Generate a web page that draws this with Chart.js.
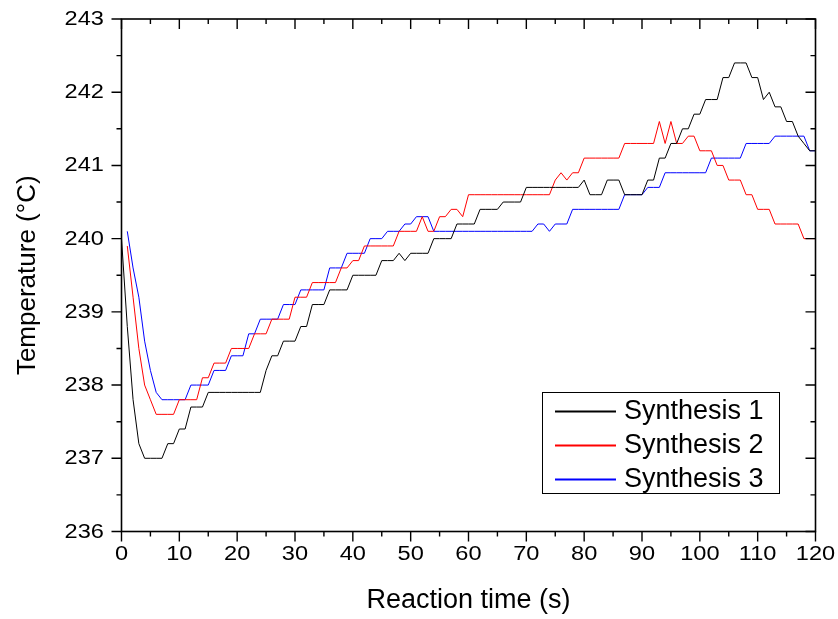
<!DOCTYPE html>
<html>
<head>
<meta charset="utf-8">
<script src="https://cdn.jsdelivr.net/npm/chart.js@4/dist/chart.umd.min.js"></script>
<style>
  html, body { margin: 0; padding: 0; background: #ffffff; }
  #wrap { width: 838px; height: 619px; position: relative; }
</style>
</head>
<body>
<div id="wrap"><canvas id="chart" width="838" height="619"></canvas></div>
<script>
// Reactor temperature logged once per second for three syntheses.
const SERIES_NAMES = ['Synthesis 1', 'Synthesis 2', 'Synthesis 3'];
const SERIES_COLORS = ['#000000', '#ff0000', '#0000ff'];
const SERIES_START_S = [0, 1, 1];   // first logged second of each run
const SAMPLE_STEP_S = 1;

const synthesis1 = [
  240.0, 238.8, 237.8, 237.2, 237.0, 237.0, 237.0, 237.0, 237.2, 237.2,
  237.4, 237.4, 237.7, 237.7, 237.7, 237.9, 237.9, 237.9, 237.9, 237.9,
  237.9, 237.9, 237.9, 237.9, 237.9, 238.2, 238.4, 238.4, 238.6, 238.6,
  238.6, 238.8, 238.8, 239.1, 239.1, 239.1, 239.3, 239.3, 239.3, 239.3,
  239.5, 239.5, 239.5, 239.5, 239.5, 239.7, 239.7, 239.7, 239.8, 239.7,
  239.8, 239.8, 239.8, 239.8, 240.0, 240.0, 240.0, 240.0, 240.2, 240.2,
  240.2, 240.2, 240.4, 240.4, 240.4, 240.4, 240.5, 240.5, 240.5, 240.5,
  240.7, 240.7, 240.7, 240.7, 240.7, 240.7, 240.7, 240.7, 240.7, 240.7,
  240.8, 240.6, 240.6, 240.6, 240.8, 240.8, 240.8, 240.6, 240.6, 240.6,
  240.6, 240.8, 240.8, 241.1, 241.1, 241.3, 241.3, 241.5, 241.5, 241.7,
  241.7, 241.9, 241.9, 241.9, 242.2, 242.2, 242.4, 242.4, 242.4, 242.2,
  242.2, 241.9, 242.0, 241.8, 241.8, 241.6, 241.6, 241.4, 241.3, 241.2,
  241.2
];

const synthesis2 = [
         239.9, 239.2, 238.5, 238.0, 237.8, 237.6, 237.6, 237.6, 237.6,
  237.8, 237.8, 237.8, 237.8, 238.1, 238.1, 238.3, 238.3, 238.3, 238.5,
  238.5, 238.5, 238.5, 238.7, 238.7, 238.7, 238.9, 238.9, 238.9, 238.9,
  239.2, 239.2, 239.2, 239.4, 239.4, 239.4, 239.4, 239.4, 239.6, 239.6,
  239.7, 239.7, 239.9, 239.9, 239.9, 239.9, 239.9, 239.9, 240.1, 240.1,
  240.1, 240.1, 240.3, 240.1, 240.1, 240.3, 240.3, 240.4, 240.4, 240.3,
  240.6, 240.6, 240.6, 240.6, 240.6, 240.6, 240.6, 240.6, 240.6, 240.6,
  240.6, 240.6, 240.6, 240.6, 240.6, 240.8, 240.9, 240.8, 240.9, 240.9,
  241.1, 241.1, 241.1, 241.1, 241.1, 241.1, 241.1, 241.3, 241.3, 241.3,
  241.3, 241.3, 241.3, 241.6, 241.3, 241.6, 241.3, 241.3, 241.4, 241.4,
  241.2, 241.2, 241.2, 241.0, 241.0, 240.8, 240.8, 240.8, 240.6, 240.6,
  240.4, 240.4, 240.4, 240.2, 240.2, 240.2, 240.2, 240.2, 240.0, 240.0,
  240.0
];

const synthesis3 = [
         240.1, 239.6, 239.2, 238.6, 238.2, 237.9, 237.8, 237.8, 237.8,
  237.8, 237.8, 238.0, 238.0, 238.0, 238.0, 238.2, 238.2, 238.2, 238.4,
  238.4, 238.4, 238.7, 238.7, 238.9, 238.9, 238.9, 238.9, 239.1, 239.1,
  239.1, 239.3, 239.3, 239.3, 239.3, 239.3, 239.6, 239.6, 239.6, 239.8,
  239.8, 239.8, 239.8, 240.0, 240.0, 240.0, 240.1, 240.1, 240.1, 240.2,
  240.2, 240.3, 240.3, 240.3, 240.1, 240.1, 240.1, 240.1, 240.1, 240.1,
  240.1, 240.1, 240.1, 240.1, 240.1, 240.1, 240.1, 240.1, 240.1, 240.1,
  240.1, 240.1, 240.2, 240.2, 240.1, 240.2, 240.2, 240.2, 240.4, 240.4,
  240.4, 240.4, 240.4, 240.4, 240.4, 240.4, 240.4, 240.6, 240.6, 240.6,
  240.6, 240.7, 240.7, 240.7, 240.9, 240.9, 240.9, 240.9, 240.9, 240.9,
  240.9, 240.9, 241.1, 241.1, 241.1, 241.1, 241.1, 241.1, 241.3, 241.3,
  241.3, 241.3, 241.3, 241.4, 241.4, 241.4, 241.4, 241.4, 241.4, 241.2,
  241.2
];

// Axis ranges and tick spacing
const X_RANGE = [0, 120];
const X_MAJOR = 10;
const X_MINOR = 5;
const Y_RANGE = [236, 243];
const Y_MAJOR = 1;
const Y_MINOR = 0.5;
const X_TITLE = 'Reaction time (s)';
const Y_TITLE = 'Temperature (°C)';

const FONT_FAMILY = '"Liberation Sans", Arial, Helvetica, sans-serif';
const TICK_FONT_PX = 20;
const TICK_STRETCH = 1.18;   // tick numerals are set slightly wide

function toPoints(values, startS) {
  return values.map((v, i) => ({ x: startS + i * SAMPLE_STEP_S, y: v }));
}

const seriesValues = [synthesis1, synthesis2, synthesis3];

function isMultiple(v, step) {
  return Math.abs(v / step - Math.round(v / step)) < 1e-6;
}

// Frame on all four sides: outward ticks on bottom/left, inward ticks on top/right,
// plus the (widened) numeric tick labels taken from the Chart.js scales.
const framePlugin = {
  id: 'frameTicks',
  afterDatasetsDraw(chart) {
    const { ctx, chartArea: a, scales: { x, y } } = chart;
    const MAJOR_LEN = 10, MINOR_LEN = 5;
    ctx.save();
    ctx.strokeStyle = '#000';
    ctx.lineWidth = 1.6;
    ctx.lineCap = 'square';
    ctx.strokeRect(a.left, a.top, a.right - a.left, a.bottom - a.top);
    ctx.lineWidth = 1.4;
    ctx.lineCap = 'butt';
    ctx.beginPath();
    for (let v = X_RANGE[0]; v <= X_RANGE[1] + 1e-9; v += X_MINOR) {
      const px = x.getPixelForValue(v);
      const len = isMultiple(v, X_MAJOR) ? MAJOR_LEN : MINOR_LEN;
      ctx.moveTo(px, a.bottom); ctx.lineTo(px, a.bottom + len);
      ctx.moveTo(px, a.top); ctx.lineTo(px, a.top + len);
    }
    for (let v = Y_RANGE[0]; v <= Y_RANGE[1] + 1e-9; v += Y_MINOR) {
      const py = y.getPixelForValue(v);
      const len = isMultiple(v, Y_MAJOR) ? MAJOR_LEN : MINOR_LEN;
      ctx.moveTo(a.left, py); ctx.lineTo(a.left - len, py);
      ctx.moveTo(a.right, py); ctx.lineTo(a.right - len, py);
    }
    ctx.stroke();

    ctx.fillStyle = '#000';
    ctx.font = TICK_FONT_PX + 'px ' + FONT_FAMILY;
    ctx.textBaseline = 'alphabetic';
    ctx.textAlign = 'center';
    x.ticks.forEach(t => {
      const px = x.getPixelForValue(t.value);
      ctx.save();
      ctx.translate(px, a.bottom + 28);
      ctx.scale(TICK_STRETCH, 1);
      ctx.fillText(String(t.value), 0, 0);
      ctx.restore();
    });
    ctx.textAlign = 'right';
    y.ticks.forEach(t => {
      const py = y.getPixelForValue(t.value);
      ctx.save();
      ctx.translate(a.left - 17.5, py + 6);
      ctx.scale(TICK_STRETCH, 1);
      ctx.fillText(String(t.value), 0, 0);
      ctx.restore();
    });
    ctx.restore();
  }
};

// Boxed legend in the lower right of the plot area.
const boxLegendPlugin = {
  id: 'boxLegend',
  afterDatasetsDraw(chart) {
    const { ctx, chartArea: a } = chart;
    const box = { right: a.right - 35.5, bottom: a.bottom - 37.5, width: 238, height: 102 };
    const left = Math.round(box.right - box.width), top = Math.round(box.bottom - box.height);
    ctx.save();
    ctx.fillStyle = '#ffffff';
    ctx.fillRect(left, top, box.width, box.height);
    ctx.strokeStyle = '#000000';
    ctx.lineWidth = 1;
    ctx.strokeRect(left + 0.5, top + 0.5, box.width - 1, box.height - 1);
    ctx.font = '27px ' + FONT_FAMILY;
    ctx.textBaseline = 'middle';
    ctx.textAlign = 'left';
    for (let i = 0; i < SERIES_NAMES.length; i++) {
      const cy = Math.round(top + 19 + i * 34);
      // sample line in the series colour
      ctx.fillStyle = SERIES_COLORS[i];
      ctx.fillRect(left + 13, cy - 0.5, 61, 2);
      ctx.fillStyle = '#000000';
      ctx.fillText(SERIES_NAMES[i], left + 82, cy + 1);
    }
    ctx.restore();
  }
};

const titleFontX = { family: FONT_FAMILY, size: 27 };
const titleFontY = { family: FONT_FAMILY, size: 26 };

new Chart(document.getElementById('chart'), {
  type: 'line',
  data: {
    datasets: SERIES_NAMES.map((name, i) => ({
      label: name,
      data: toPoints(seriesValues[i], SERIES_START_S[i]),
      borderColor: SERIES_COLORS[i],
      backgroundColor: SERIES_COLORS[i],
      borderWidth: 1,
      pointRadius: 0,
      tension: 0,
      fill: false
    }))
  },
  options: {
    responsive: false,
    animation: false,
    devicePixelRatio: 1,
    layout: { padding: { top: 19, right: 22.5, left: 0, bottom: 0 } },
    plugins: { legend: { display: false }, tooltip: { enabled: false } },
    scales: {
      x: {
        type: 'linear',
        min: X_RANGE[0], max: X_RANGE[1],
        ticks: { stepSize: X_MAJOR, display: false, autoSkip: false },
        grid: { display: false, drawTicks: false },
        border: { display: false },
        title: { display: true, text: X_TITLE, font: titleFontX, color: '#000', padding: { top: 0, bottom: 2 } },
        afterFit(scale) { scale.height = 87.5; }
      },
      y: {
        type: 'linear',
        min: Y_RANGE[0], max: Y_RANGE[1],
        ticks: { stepSize: Y_MAJOR, display: false, autoSkip: false },
        grid: { display: false, drawTicks: false },
        border: { display: false },
        title: { display: true, text: Y_TITLE, font: titleFontY, color: '#000', padding: { top: 12, bottom: 0 } },
        afterFit(scale) { scale.width = 121.5; }
      }
    }
  },
  plugins: [framePlugin, boxLegendPlugin]
});
</script>
</body>
</html>
